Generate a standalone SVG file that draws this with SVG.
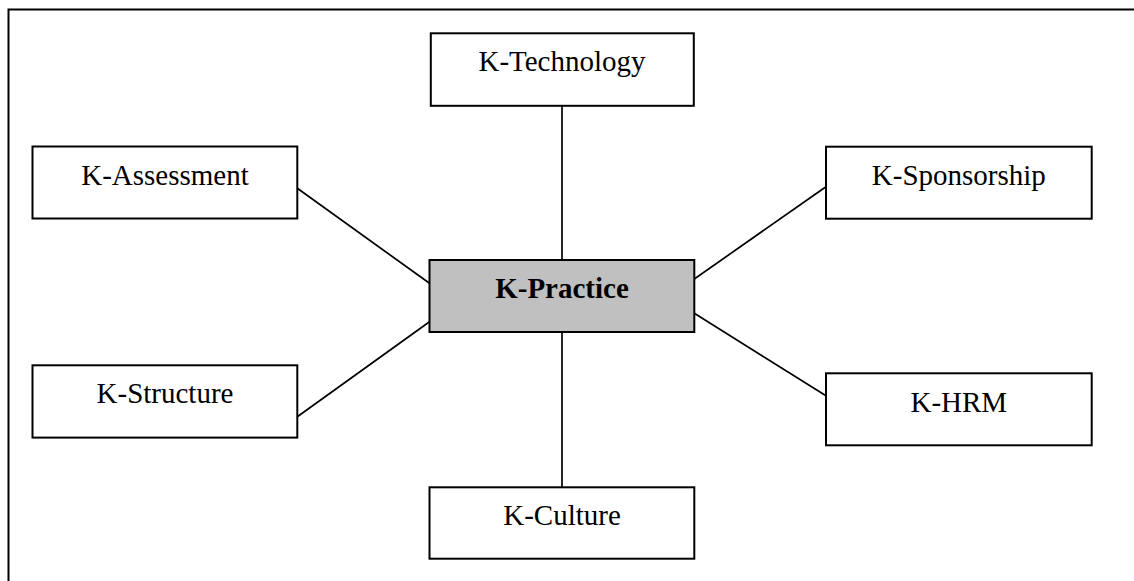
<svg xmlns="http://www.w3.org/2000/svg" width="1134" height="581" viewBox="0 0 1134 581">
<style>
.box{fill:#fff;stroke:#000;stroke-width:2}
.center{fill:#c0c0c0;stroke:#000;stroke-width:2}
.lbl{font-family:"Liberation Serif","Times New Roman",serif;font-size:29px;fill:#000;text-anchor:middle}
.bold{font-weight:bold}
.conn line{stroke:#000;stroke-width:1.7}
</style>
<rect width="1134" height="581" fill="#fff"/>
<g id="frame" fill="none" stroke="#000" stroke-width="2">
<polyline points="8.5,581 8.5,9.5 1134,9.5"/>
</g>
<g id="connectors" class="conn">
<line x1="562" y1="106" x2="562" y2="260"/>
<line x1="562" y1="332" x2="562" y2="487"/>
<line x1="297.3" y1="188.3" x2="429.5" y2="283.3"/>
<line x1="297.3" y1="416.7" x2="429.5" y2="321.7"/>
<line x1="694.3" y1="279" x2="826" y2="186.7"/>
<line x1="694.3" y1="313.3" x2="826" y2="395.7"/>
</g>
<g id="k-technology">
<rect class="box" x="430.8" y="33.3" width="263" height="72.5"/>
<text class="lbl" x="562" y="71">K-Technology</text>
</g>
<g id="k-assessment">
<rect class="box" x="32.5" y="146.5" width="264.8" height="72"/>
<text class="lbl" x="165" y="185">K-Assessment</text>
</g>
<g id="k-sponsorship">
<rect class="box" x="826" y="146.7" width="265.7" height="72"/>
<text class="lbl" x="958.8" y="185">K-Sponsorship</text>
</g>
<g id="k-practice">
<rect class="center" x="429.5" y="260" width="264.8" height="72"/>
<text class="lbl bold" x="562" y="298.3">K-Practice</text>
</g>
<g id="k-structure">
<rect class="box" x="32.5" y="365.3" width="264.8" height="72.3"/>
<text class="lbl" x="165" y="403.3">K-Structure</text>
</g>
<g id="k-hrm">
<rect class="box" x="826" y="373.3" width="265.7" height="72"/>
<text class="lbl" x="958.8" y="411.7">K-HRM</text>
</g>
<g id="k-culture">
<rect class="box" x="429.5" y="487.3" width="264.8" height="71.4"/>
<text class="lbl" x="562" y="525">K-Culture</text>
</g>
</svg>
